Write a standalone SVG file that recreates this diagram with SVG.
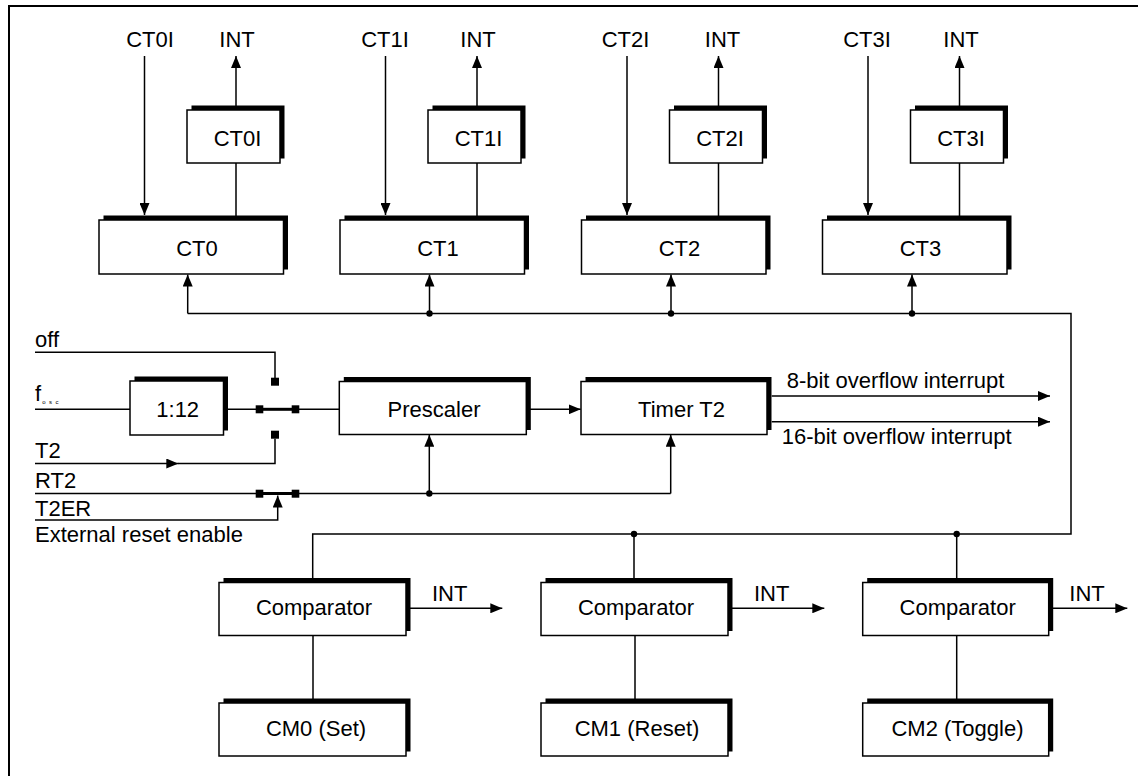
<svg xmlns="http://www.w3.org/2000/svg" width="1138" height="776" viewBox="0 0 1138 776">
<style>
text{font-family:"Liberation Sans",Arial,Helvetica,sans-serif;font-size:22px;fill:#000}
.c{text-anchor:middle}
.ln{fill:none;stroke:#000;stroke-width:1.5}
.ar{fill:none;stroke:#000;stroke-width:1.5;marker-end:url(#ah)}
.lv{fill:none;stroke:#000;stroke-width:3}
.bx{fill:#fff;stroke:#000;stroke-width:1.5}
.sh{fill:#000}
.sq{fill:#000}
</style>
<defs>
<marker id="ah" markerUnits="userSpaceOnUse" viewBox="0 0 12 10" markerWidth="12" markerHeight="10" refX="12" refY="5" orient="auto"><path d="M0,0 L12,5 L0,10 z" fill="#000"/></marker>
</defs>
<rect width="1138" height="776" fill="#fff"/>
<path d="M9,776 V6 H1138" fill="none" stroke="#000" stroke-width="2"/>

<g id="connectors">
<!-- top column arrows -->
<path class="ar" d="M144.5,56 V215"/>
<path class="ar" d="M385.5,56 V215"/>
<path class="ar" d="M627,56 V215"/>
<path class="ar" d="M868,56 V215"/>
<path class="ar" d="M236,110 V56"/>
<path class="ar" d="M477,110 V56"/>
<path class="ar" d="M718.5,110 V56"/>
<path class="ar" d="M959.5,110 V56"/>
<path class="ln" d="M236,163 V220 M477,163 V220 M718.5,163 V220 M959.5,163 V220"/>
<!-- bus -->
<path class="ln" d="M187.7,313.5 H1071 V534 H312.7 V578"/>
<path class="ar" d="M187.7,313.5 V274.5"/>
<path class="ar" d="M429.5,313.5 V274.5"/>
<path class="ar" d="M671,313.5 V274.5"/>
<path class="ar" d="M912,313.5 V274.5"/>
<path class="ln" d="M634,534 V578 M956.7,534 V578"/>
<circle cx="429.5" cy="313.5" r="3.2"/>
<circle cx="671" cy="313.5" r="3.2"/>
<circle cx="912" cy="313.5" r="3.2"/>
<circle cx="634" cy="534" r="3.2"/>
<circle cx="956.7" cy="534" r="3.2"/>
<!-- comparator to CM -->
<path class="ln" d="M313,635.5 V699 M635,635.5 V699 M956.7,635.5 V699"/>
<!-- comparator INT -->
<path class="ar" d="M410,608.3 H502.3"/>
<path class="ar" d="M732,608.3 H824.3"/>
<path class="ar" d="M1053,608.3 H1127.3"/>
<!-- middle -->
<path class="ln" d="M35,352.3 H275 V378"/>
<path class="ln" d="M35,409.3 H130 M228,409.3 H256 M299,409.3 H339.3"/>
<path class="lv" d="M263,409.3 H292"/>
<path class="ar" d="M35,463.5 H178.3"/>
<path class="ln" d="M178,463.5 H275 V438.7"/>
<path class="ln" d="M35,493.5 H256 M299,493.5 H670.7"/>
<path class="lv" d="M263,493.5 H292"/>
<path class="ar" d="M429.3,493.5 V434.8"/>
<path class="ar" d="M670.7,493.5 V434.8"/>
<circle cx="429.3" cy="493.5" r="3.2"/>
<path class="ar" d="M35,520 H277.7 V495.5"/>
<path class="ar" d="M530,409.3 H580.7"/>
<path class="ar" d="M771.7,396 H1050"/>
<path class="ar" d="M771.7,421.7 H1050"/>
<rect class="sq" x="271" y="377.7" width="8" height="8"/>
<rect class="sq" x="255.7" y="405.3" width="7.6" height="8"/>
<rect class="sq" x="291.7" y="405.3" width="7.6" height="8"/>
<rect class="sq" x="271" y="430.7" width="8" height="8"/>
<rect class="sq" x="255.7" y="489.7" width="7.6" height="8"/>
<rect class="sq" x="291.7" y="489.7" width="7.6" height="8"/>
</g>

<g id="labels">
<text class="c" x="150" y="46.5">CT0I</text>
<text class="c" x="237" y="46.5">INT</text>
<text class="c" x="385" y="46.5">CT1I</text>
<text class="c" x="478" y="46.5">INT</text>
<text class="c" x="625.5" y="46.5">CT2I</text>
<text class="c" x="722.5" y="46.5">INT</text>
<text class="c" x="867" y="46.5">CT3I</text>
<text class="c" x="961" y="46.5">INT</text>
<text x="35" y="347">off</text>
<text x="35" y="401">f<tspan font-size="6" letter-spacing="3.5" dx="1" dy="3">osc</tspan></text>
<text x="35" y="458.3">T2</text>
<text x="35" y="487.5">RT2</text>
<text x="35" y="516">T2ER</text>
<text x="35" y="542">External reset enable</text>
<text x="786.7" y="388">8-bit overflow interrupt</text>
<text x="781.7" y="444">16-bit overflow interrupt</text>
<text class="c" x="449.7" y="600.7">INT</text>
<text class="c" x="771.7" y="600.7">INT</text>
<text class="c" x="1087" y="600.7">INT</text>
</g>

<g id="ct0i"><rect class="sh" x="191.5" y="105.5" width="93" height="53"/><rect class="bx" x="187" y="110" width="93" height="53"/><text class="c" x="237.5" y="146">CT0I</text></g>
<g id="ct1i"><rect class="sh" x="432.5" y="105.5" width="93" height="53"/><rect class="bx" x="428" y="110" width="93" height="53"/><text class="c" x="478.5" y="146">CT1I</text></g>
<g id="ct2i"><rect class="sh" x="674" y="105.5" width="93" height="53"/><rect class="bx" x="669.5" y="110" width="93" height="53"/><text class="c" x="720" y="146">CT2I</text></g>
<g id="ct3i"><rect class="sh" x="915" y="105.5" width="93" height="53"/><rect class="bx" x="910.5" y="110" width="93" height="53"/><text class="c" x="961" y="146">CT3I</text></g>

<g id="ct0"><rect class="sh" x="103.5" y="215.5" width="184.5" height="54"/><rect class="bx" x="99" y="220" width="184.5" height="54"/><text class="c" x="197" y="256">CT0</text></g>
<g id="ct1"><rect class="sh" x="344.5" y="215.5" width="184.5" height="54"/><rect class="bx" x="340" y="220" width="184.5" height="54"/><text class="c" x="438" y="256">CT1</text></g>
<g id="ct2"><rect class="sh" x="586" y="215.5" width="184.5" height="54"/><rect class="bx" x="581.5" y="220" width="184.5" height="54"/><text class="c" x="679.5" y="256">CT2</text></g>
<g id="ct3"><rect class="sh" x="827" y="215.5" width="184.5" height="54"/><rect class="bx" x="822.5" y="220" width="184.5" height="54"/><text class="c" x="920.5" y="256">CT3</text></g>

<g id="div12"><rect class="sh" x="134.5" y="376.5" width="93.5" height="54"/><rect class="bx" x="130" y="381" width="93.5" height="54"/><text class="c" x="177.7" y="416.7">1:12</text></g>
<g id="prescaler"><rect class="sh" x="343.8" y="377" width="187" height="53"/><rect class="bx" x="339.3" y="381.5" width="187" height="53"/><text class="c" x="434" y="417">Prescaler</text></g>
<g id="timer"><rect class="sh" x="585.5" y="377" width="186" height="53"/><rect class="bx" x="581" y="381.5" width="186" height="53"/><text class="c" x="681.5" y="417">Timer T2</text></g>

<g id="comp0"><rect class="sh" x="223.5" y="578" width="187" height="53"/><rect class="bx" x="219" y="582.5" width="187" height="53"/><text class="c" x="314" y="615">Comparator</text></g>
<g id="comp1"><rect class="sh" x="545.5" y="578" width="187" height="53"/><rect class="bx" x="541" y="582.5" width="187" height="53"/><text class="c" x="636" y="615">Comparator</text></g>
<g id="comp2"><rect class="sh" x="867.2" y="578" width="186" height="53"/><rect class="bx" x="862.7" y="582.5" width="186" height="53"/><text class="c" x="957.7" y="615">Comparator</text></g>

<g id="cm0"><rect class="sh" x="223.5" y="698.5" width="187" height="53"/><rect class="bx" x="219" y="703" width="187" height="53"/><text class="c" x="316" y="736">CM0 (Set)</text></g>
<g id="cm1"><rect class="sh" x="545.5" y="698.5" width="187" height="53"/><rect class="bx" x="541" y="703" width="187" height="53"/><text class="c" x="637" y="736">CM1 (Reset)</text></g>
<g id="cm2"><rect class="sh" x="867.2" y="698.5" width="186" height="53"/><rect class="bx" x="862.7" y="703" width="186" height="53"/><text class="c" x="957.5" y="736">CM2 (Toggle)</text></g>
</svg>
